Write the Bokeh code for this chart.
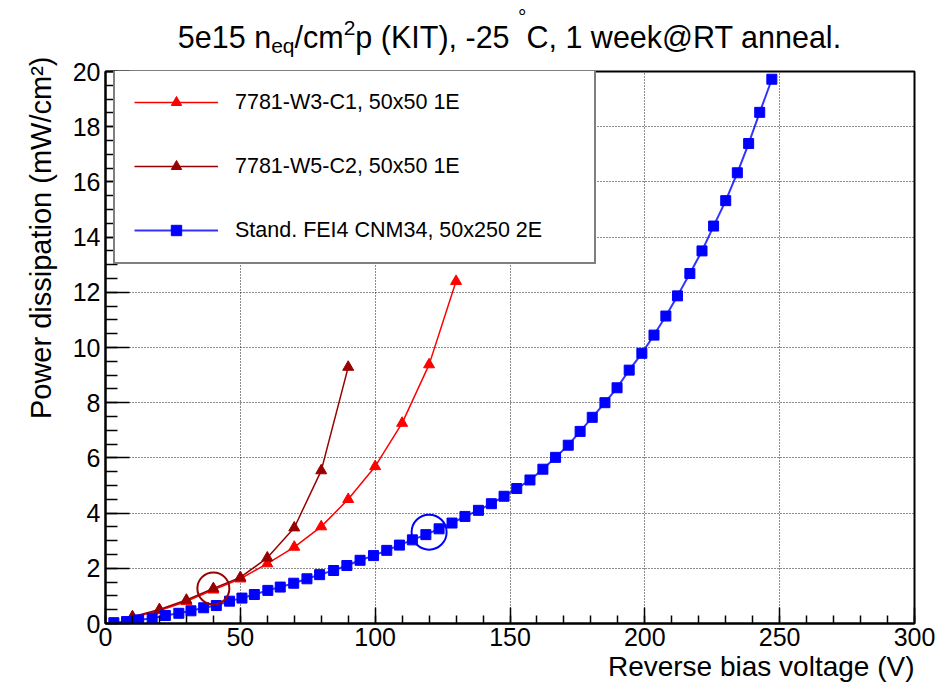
import numpy as np
from bokeh.plotting import figure
from bokeh.layouts import column
from bokeh.models import Legend, LegendItem, FixedTicker, Range1d, Title, Div
from bokeh.embed import file_html
from bokeh.resources import INLINE

# ---------------- data ----------------
w3_v = [10, 20, 30, 40, 50, 60, 70, 80, 90, 100, 110, 120, 130]
w3_p = [0.22, 0.47, 0.80, 1.22, 1.62, 2.17, 2.77, 3.51, 4.50, 5.69, 7.26, 9.38, 12.40]

w5_v = [10, 20, 30, 40, 50, 60, 70, 80, 90]
w5_p = [0.25, 0.51, 0.85, 1.27, 1.67, 2.38, 3.47, 5.54, 9.29]

fei4_v = [3.1, 7.8, 12.3, 17.3, 22.2, 27.2, 31.7, 36.4, 41.1, 46.0,
          50.6, 55.2, 60.2, 64.8, 69.8, 74.7, 79.4, 84.6, 89.5, 94.4,
          99.4, 104.3, 109.0, 113.8, 118.8, 123.7, 128.5, 133.3, 138.3, 143.1,
          147.8, 152.5, 157.4, 162.2, 166.9, 171.6, 176.0, 180.5, 185.2, 189.7,
          194.2, 198.9, 203.4, 207.8, 212.1, 216.7, 221.2, 225.5, 230.0, 234.3,
          238.5, 242.6, 247.1]
fei4_p = [0.03, 0.07, 0.13, 0.19, 0.29, 0.37, 0.46, 0.57, 0.65, 0.81,
          0.92, 1.05, 1.20, 1.32, 1.46, 1.62, 1.77, 1.92, 2.10, 2.29,
          2.46, 2.65, 2.84, 3.03, 3.22, 3.43, 3.64, 3.88, 4.10, 4.34,
          4.61, 4.89, 5.20, 5.59, 6.02, 6.46, 6.96, 7.47, 8.00, 8.54,
          9.18, 9.79, 10.45, 11.14, 11.87, 12.68, 13.50, 14.40, 15.32, 16.33,
          17.39, 18.52, 19.72]

mark_w5_v = [40]
mark_w5_p = [1.27]
mark_fei4_v = [120]
mark_fei4_p = [3.31]

x_ticks = [0, 50, 100, 150, 200, 250, 300]
y_ticks = [0, 2, 4, 6, 8, 10, 12, 14, 16, 18, 20]

labels = ["7781-W3-C1, 50x50 1E", "7781-W5-C2, 50x50 1E", "Stand. FEI4 CNM34, 50x250 2E"]
x_title = "Reverse bias voltage (V)"
y_title = "Power dissipation (mW/cm²)"
# title pieces: (text, kind) kind: n = normal, sub = subscript, sup = superscript, deg = raised ring
title_pieces = [("5e15 n", "n"), ("eq", "sub"), ("/cm", "n"), ("2", "sup"),
                ("p (KIT), -25 ", "n"), ("°", "deg"), ("C, 1 week@RT anneal.", "n")]

# ---------------- layout ----------------
W_ = 944
TOP_H = 57
MAIN_H = 688 - TOP_H
FL, FR = 105, 914
FONT = "Liberation Sans"

# ---- title strip (HTML text with sub/superscripts) ----
F_MAIN, F_SMALL = 30.5, 21
shift = {"sub": 5, "sup": -13, "deg": -24}
html_parts = []
for s, k in title_pieces:
    if k == "n":
        html_parts.append(s)
    else:
        html_parts.append(f'<span style="font-size:{F_SMALL}px;position:relative;top:{shift[k]}px;">{s}</span>')
title_html = (
    f'<div style="position:relative;width:{W_}px;height:{TOP_H}px;margin:0;padding:0;">'
    f'<div style="position:absolute;left:{FL}px;width:{FR - FL}px;top:22px;'
    f'text-align:center;white-space:nowrap;font-family:\'{FONT}\';'
    f'font-size:{F_MAIN}px;line-height:{F_MAIN}px;color:black;">'
    + "".join(html_parts) + '</div></div>')
t = Div(text=title_html, width=W_, height=TOP_H, margin=0)

# ---- main plot ----
p = figure(width=W_, height=MAIN_H, x_range=Range1d(0, 300), y_range=Range1d(0, 20),
           output_backend="svg", toolbar_location=None,
           min_border_left=FL, min_border_right=W_ - FR, min_border_top=71 - TOP_H,
           min_border_bottom=65)
p.background_fill_color = "white"
p.border_fill_color = "white"
p.outline_line_color = "black"
p.outline_line_width = 2

for ax in (p.xaxis, p.yaxis):
    ax.major_tick_out = 0
    ax.minor_tick_out = 0
    ax.axis_line_color = "black"
    ax.axis_line_width = 2
    ax.major_tick_line_color = "black"
    ax.minor_tick_line_color = "black"
    ax.major_tick_line_width = 1.5
    ax.minor_tick_line_width = 1.5
    ax.major_label_text_font = FONT
    ax.major_label_text_font_size = "25px"
    ax.major_label_text_color = "black"

p.xaxis.ticker = FixedTicker(ticks=x_ticks, minor_ticks=list(np.arange(0, 301, 10)))
p.yaxis.ticker = FixedTicker(ticks=y_ticks, minor_ticks=list(np.arange(0, 20.01, 0.5)))
p.xaxis.major_tick_in = 16
p.xaxis.minor_tick_in = 8
p.yaxis.major_tick_in = 24
p.yaxis.minor_tick_in = 12
p.xaxis.major_label_standoff = 4

for g in (p.xgrid, p.ygrid):
    g.grid_line_color = "black"
    g.grid_line_dash = "1 2"
    g.grid_line_width = 1
    g.grid_line_alpha = 0.9

# curves
r1l = p.line(w3_v, w3_p, line_color="#ff0000", line_width=1.5)
r1s = p.scatter(w3_v, w3_p, marker="triangle", size=11, fill_color="#ff0000", line_color="#ff0000")
r2l = p.line(w5_v, w5_p, line_color="#990000", line_width=1.5)
r2s = p.scatter(w5_v, w5_p, marker="triangle", size=11, fill_color="#990000", line_color="#990000")
r3l = p.line(fei4_v, fei4_p, line_color="#0000ff", line_width=2, line_alpha=0.8)
r3s = p.scatter(fei4_v, fei4_p, marker="square", size=10, fill_color="#0000ff", line_color="#0000ff")

# highlight circles
p.scatter(mark_w5_v, mark_w5_p, marker="circle", size=32, fill_alpha=0,
          line_color="#990000", line_width=2)
p.scatter(mark_fei4_v, mark_fei4_p, marker="circle", size=35, fill_alpha=0,
          line_color="#0000ff", line_width=2)

legend = Legend(items=[LegendItem(label=labels[0], renderers=[r1l, r1s]),
                       LegendItem(label=labels[1], renderers=[r2l, r2s]),
                       LegendItem(label=labels[2], renderers=[r3l, r3s])],
                location=(8, 359))
legend.border_line_color = "black"
legend.border_line_width = 2.5
legend.background_fill_color = "white"
legend.background_fill_alpha = 1
legend.label_text_font = FONT
legend.label_text_font_size = "21.5px"
legend.label_text_color = "black"
legend.glyph_width = 84
legend.glyph_height = 26
legend.label_height = 26
legend.label_width = 340
legend.spacing = 38
legend.padding = 19
legend.label_standoff = 17
legend.margin = 0
p.add_layout(legend)

# axis titles (right/top aligned like ROOT)
xt = Title(text=x_title, align="right", text_font=FONT, text_font_size="28px",
           text_font_style="normal", text_color="black", standoff=0, offset=0)
p.add_layout(xt, "below")
yt = Title(text=y_title, align="right", text_font=FONT, text_font_size="29px",
           text_font_style="normal", text_color="black", standoff=26, offset=-15)
p.add_layout(yt, "left")

layout = column(t, p, spacing=0)
open("out.html", "w").write(file_html(layout, INLINE))
